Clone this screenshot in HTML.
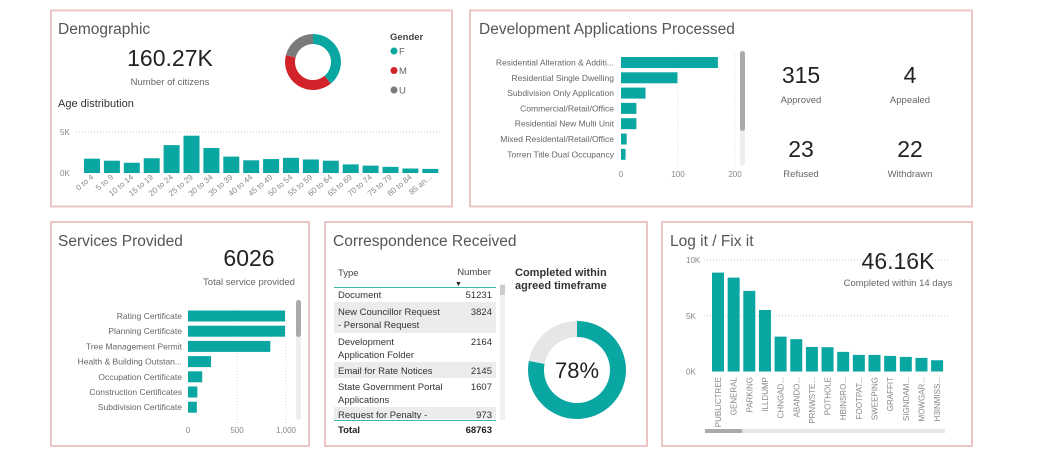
<!DOCTYPE html>
<html><head><meta charset="utf-8"><style>
html,body{margin:0;padding:0;background:#fff;}
svg{display:block;font-family:"Liberation Sans",sans-serif;}
.t{fill:#555;font-size:15.5px;}
.lbl{fill:#666;font-size:8.5px;}
.ax{fill:#888;font-size:8px;}
.big{fill:#222;font-size:23px;}
.sub{fill:#666;font-size:9.5px;}
</style></head><body>
<svg id="dash" width="1055" height="467" viewBox="0 0 1055 467">
<rect x="0" y="0" width="1055" height="467" fill="#fff"/>
<!-- panels -->
<rect x="51" y="10.5" width="401" height="196" fill="#fff" stroke="#ecc6c6" stroke-width="2"/>
<rect x="470" y="10.5" width="502" height="196" fill="#fff" stroke="#ecc6c6" stroke-width="2"/>
<rect x="51" y="222" width="258" height="224" fill="#fff" stroke="#ecc6c6" stroke-width="2"/>
<rect x="325" y="222" width="322" height="224" fill="#fff" stroke="#ecc6c6" stroke-width="2"/>
<rect x="662" y="222" width="310" height="224" fill="#fff" stroke="#ecc6c6" stroke-width="2"/>

<!-- Demographic -->
<text x="58" y="34" class="t">Demographic</text>
<text x="170" y="66" class="big" text-anchor="middle">160.27K</text>
<text x="170" y="85" class="sub" text-anchor="middle">Number of citizens</text>
<g id="genderDonut"></g>
<text x="390" y="40" fill="#444" font-size="9.5" font-weight="bold">Gender</text>
<g id="genderLegend"></g>
<text x="58" y="107" fill="#333" font-size="11">Age distribution</text>
<g id="ageChart"></g>

<!-- Dev Apps -->
<text x="479" y="34" class="t">Development Applications Processed</text>
<g id="devChart"></g>
<rect x="740" y="51" width="5" height="115" rx="2.5" fill="#eee"/>
<rect x="740" y="51" width="5" height="80" rx="2.5" fill="#aaa"/>
<text x="801" y="83" class="big" font-size="24" text-anchor="middle">315</text>
<text x="801" y="103" class="sub" text-anchor="middle">Approved</text>
<text x="910" y="83" class="big" font-size="24" text-anchor="middle">4</text>
<text x="910" y="103" class="sub" text-anchor="middle">Appealed</text>
<text x="801" y="157" class="big" font-size="24" text-anchor="middle">23</text>
<text x="801" y="177" class="sub" text-anchor="middle">Refused</text>
<text x="910" y="157" class="big" font-size="24" text-anchor="middle">22</text>
<text x="910" y="177" class="sub" text-anchor="middle">Withdrawn</text>

<!-- Services -->
<text x="58" y="246" class="t">Services Provided</text>
<text x="249" y="266" class="big" font-size="21" text-anchor="middle">6026</text>
<text x="249" y="285" class="sub" text-anchor="middle">Total service provided</text>
<g id="svcChart"></g>
<rect x="296" y="300" width="5" height="120" rx="2.5" fill="#eee"/>
<rect x="296" y="300" width="5" height="37" rx="2.5" fill="#aaa"/>

<!-- Correspondence -->
<text x="333" y="246" class="t">Correspondence Received</text>
<g font-size="9.5" fill="#333">
<text x="338" y="276" fill="#444">Type</text>
<text x="491" y="275" fill="#444" text-anchor="end">Number</text>
<text x="455" y="286" fill="#222" font-size="7">▼</text>
<line x1="334" y1="287.5" x2="496" y2="287.5" stroke="#3bb6b1" stroke-width="1"/>
<rect x="334" y="302" width="162" height="31" fill="#ececec"/>
<rect x="334" y="362" width="162" height="16" fill="#ececec"/>
<rect x="334" y="407" width="162" height="13" fill="#ececec"/>
<text x="338" y="298">Document</text><text x="492" y="298" text-anchor="end">51231</text>
<text x="338" y="315">New Councillor Request</text><text x="492" y="315" text-anchor="end">3824</text>
<text x="338" y="328">- Personal Request</text>
<text x="338" y="345">Development</text><text x="492" y="345" text-anchor="end">2164</text>
<text x="338" y="358">Application Folder</text>
<text x="338" y="374">Email for Rate Notices</text><text x="492" y="374" text-anchor="end">2145</text>
<text x="338" y="390">State Government Portal</text><text x="492" y="390" text-anchor="end">1607</text>
<text x="338" y="403">Applications</text>
<text x="338" y="418">Request for Penalty -</text><text x="492" y="418" text-anchor="end">973</text>
<rect x="334" y="419" width="162" height="3" fill="#fff"/>
<line x1="334" y1="420.5" x2="496" y2="420.5" stroke="#3bb6b1" stroke-width="1"/>
<text x="338" y="433" font-weight="bold" fill="#222">Total</text><text x="492" y="433" text-anchor="end" font-weight="bold" fill="#222">68763</text>
</g>
<rect x="500" y="284" width="5" height="136" fill="#f0f0f0"/>
<rect x="500" y="285" width="5" height="10" fill="#ccc"/>
<text x="515" y="276" fill="#333" font-size="11" font-weight="bold">Completed within</text>
<text x="515" y="289" fill="#333" font-size="11" font-weight="bold">agreed timeframe</text>
<g id="pctDonut"></g>
<text x="577" y="378" fill="#222" font-size="22" text-anchor="middle">78%</text>

<!-- Log it -->
<text x="670" y="246" class="t">Log it / Fix it</text>
<text x="898" y="269" class="big" text-anchor="middle">46.16K</text>
<text x="898" y="286" class="sub" text-anchor="middle">Completed within 14 days</text>
<g id="logChart"></g>
<rect x="705" y="429" width="240" height="4" fill="#e6e6e6"/>
<rect x="705" y="429" width="37" height="4" fill="#aaa"/>
</svg>
<script>
const NS='http://www.w3.org/2000/svg';
const TEAL='#0aa6a2';
// ---- data ----
const genderCats=['F','M','U'];
const genderVals=[39,40,21];
const genderColors=['#0aa6a2','#d2232a','#7a7a7a'];
const ageCats=['0 to 4','5 to 9','10 to 14','15 to 19','20 to 24','25 to 29','30 to 34','35 to 39','40 to 44','45 to 49','50 to 54','55 to 59','60 to 64','65 to 69','70 to 74','75 to 79','80 to 84','85 an...'];
const ageVals=[1750,1500,1250,1800,3400,4550,3050,2000,1550,1700,1850,1650,1500,1050,900,750,550,500];
const ageTicks=[0,5000];
const ageTickLabels=['0K','5K'];
const devCats=['Residential Alteration & Additi...','Residential Single Dwelling','Subdivision Only Application','Commercial/Retail/Office','Residential New Multi Unit','Mixed Residental/Retail/Office','Torren Title Dual Occupancy'];
const devVals=[170,99,43,27,27,10,8];
const devTicks=[0,100,200];
const svcCats=['Rating Certificate','Planning Certificate','Tree Management Permit','Health & Building Outstan...','Occupation Certificate','Construction Certificates','Subdivision Certificate'];
const svcVals=[990,990,840,235,145,95,90];
const svcTicks=[0,500,1000];
const svcTickLabels=['0','500','1,000'];
const pctVals=[78,22];
const logCats=['PUBLICTREE','GENERAL','PARKING','ILLDUMP','CHNGAD...','ABANDO...','PRNWSTE...','POTHOLE','HBINSRO...','FOOTPAT...','SWEEPING','GRAFFIT','SIGNDAM...','MOWGAR...','H3INMISS...'];
const logVals=[8870,8420,7230,5520,3130,2900,2200,2180,1760,1490,1490,1400,1310,1220,1010];
const logTicks=[0,5000,10000];
const logTickLabels=['0K','5K','10K'];

function mk(parent,tag,attrs,txt){const e=document.createElementNS(NS,tag);for(const k in attrs)e.setAttribute(k,attrs[k]);if(txt!=null)e.textContent=txt;parent.appendChild(e);return e;}
function arc(cx,cy,r0,r1,a0,a1){const p=(r,a)=>[cx+r*Math.sin(a),cy-r*Math.cos(a)];const large=(a1-a0)>Math.PI?1:0;const [x0,y0]=p(r1,a0),[x1,y1]=p(r1,a1),[x2,y2]=p(r0,a1),[x3,y3]=p(r0,a0);return `M${x0},${y0}A${r1},${r1} 0 ${large} 1 ${x1},${y1}L${x2},${y2}A${r0},${r0} 0 ${large} 0 ${x3},${y3}Z`;}
function donut(g,vals,colors,cx,cy,r0,r1,names){const tot=vals.reduce((a,b)=>a+b,0);let a=0;vals.forEach((v,i)=>{const b=a+v/tot*2*Math.PI;const p=mk(g,'path',{d:arc(cx,cy,r0,r1,a,b),fill:colors[i]});


a=b;});}

// gender donut
donut(document.getElementById('genderDonut'),genderVals,genderColors,313,62,18,28,genderCats.map(c=>'gender-slice-'+c.toLowerCase()));
const gl=document.getElementById('genderLegend');
genderCats.forEach((c,i)=>{const y=51+i*19.5;
const d=mk(gl,'circle',{cx:394,cy:y,r:3.5,fill:genderColors[i]});


const t=mk(gl,'text',{x:399,y:y+3.5,fill:'#666','font-size':9.5},c);

});

// age chart
(function(){const g=document.getElementById('ageChart');const base=173,pxPer=41/5000,x0=84,step=19.9,w=16;const y=v=>base-v*pxPer;
ageTicks.forEach((t,i)=>{const l=mk(g,'text',{x:60,y:y(t)+3,class:'ax'},ageTickLabels[i]);


if(t>0)mk(g,'line',{x1:76,x2:440,y1:y(t),y2:y(t),stroke:'#ccc','stroke-dasharray':'1,2'});});
ageVals.forEach((v,i)=>{const x=x0+i*step;const r=mk(g,'rect',{x:x,y:y(v),width:w,height:base-y(v),fill:TEAL});


const cx=x+w/2+2,ty=178;const t=mk(g,'text',{x:cx,y:ty,class:'ax','text-anchor':'end',transform:`rotate(-40 ${cx} ${ty})`,'font-size':7.5},ageCats[i]);

});})();

// horizontal bar helper
function hbars(id,cats,vals,ticks,tickLabels,x0,pxPer,y0,step,h,tickY,labelX,prefix){const g=document.getElementById(id);const x=v=>x0+v*pxPer;
ticks.forEach((t,i)=>{if(t>0)mk(g,'line',{x1:x(t),x2:x(t),y1:y0-8,y2:tickY-10,stroke:'#ddd','stroke-dasharray':'1,2'});
const l=mk(g,'text',{x:x(t),y:tickY,class:'ax','text-anchor':'middle'},tickLabels[i]);

});
vals.forEach((v,i)=>{const cy=y0+i*step;const r=mk(g,'rect',{x:x0,y:cy-h/2,width:x(v)-x0,height:h,fill:TEAL});


const t=mk(g,'text',{x:labelX,y:cy+3,class:'lbl','text-anchor':'end'},cats[i]);

});}
hbars('devChart',devCats,devVals,devTicks,devTicks.map(String),621,0.57,62.5,15.3,11,177,614,'dev');
hbars('svcChart',svcCats,svcVals,svcTicks,svcTickLabels,188,0.098,316,15.2,11,433,182,'services');

// percent donut
donut(document.getElementById('pctDonut'),pctVals,[TEAL,'#e6e6e6'],577,370,33,49,['completed-slice','remaining-slice']);

// log chart
(function(){const g=document.getElementById('logChart');const base=371.5,pxPer=111.5/10000,x0=712,step=15.65,w=12;const y=v=>base-v*pxPer;
logTicks.forEach((t,i)=>{const l=mk(g,'text',{x:686,y:y(t)+3,class:'ax'},logTickLabels[i]);


if(t>0)mk(g,'line',{x1:704,x2:950,y1:y(t),y2:y(t),stroke:'#ccc','stroke-dasharray':'1,2'});});
logVals.forEach((v,i)=>{const x=x0+i*step;const r=mk(g,'rect',{x:x,y:y(v),width:w,height:base-y(v),fill:TEAL});


const cx=x+w/2+3,ty=377;const t=mk(g,'text',{x:cx,y:ty,class:'ax','text-anchor':'end',transform:`rotate(-90 ${cx} ${ty})`,'font-size':7.5},logCats[i]);

});})();
</script>
</body></html>
